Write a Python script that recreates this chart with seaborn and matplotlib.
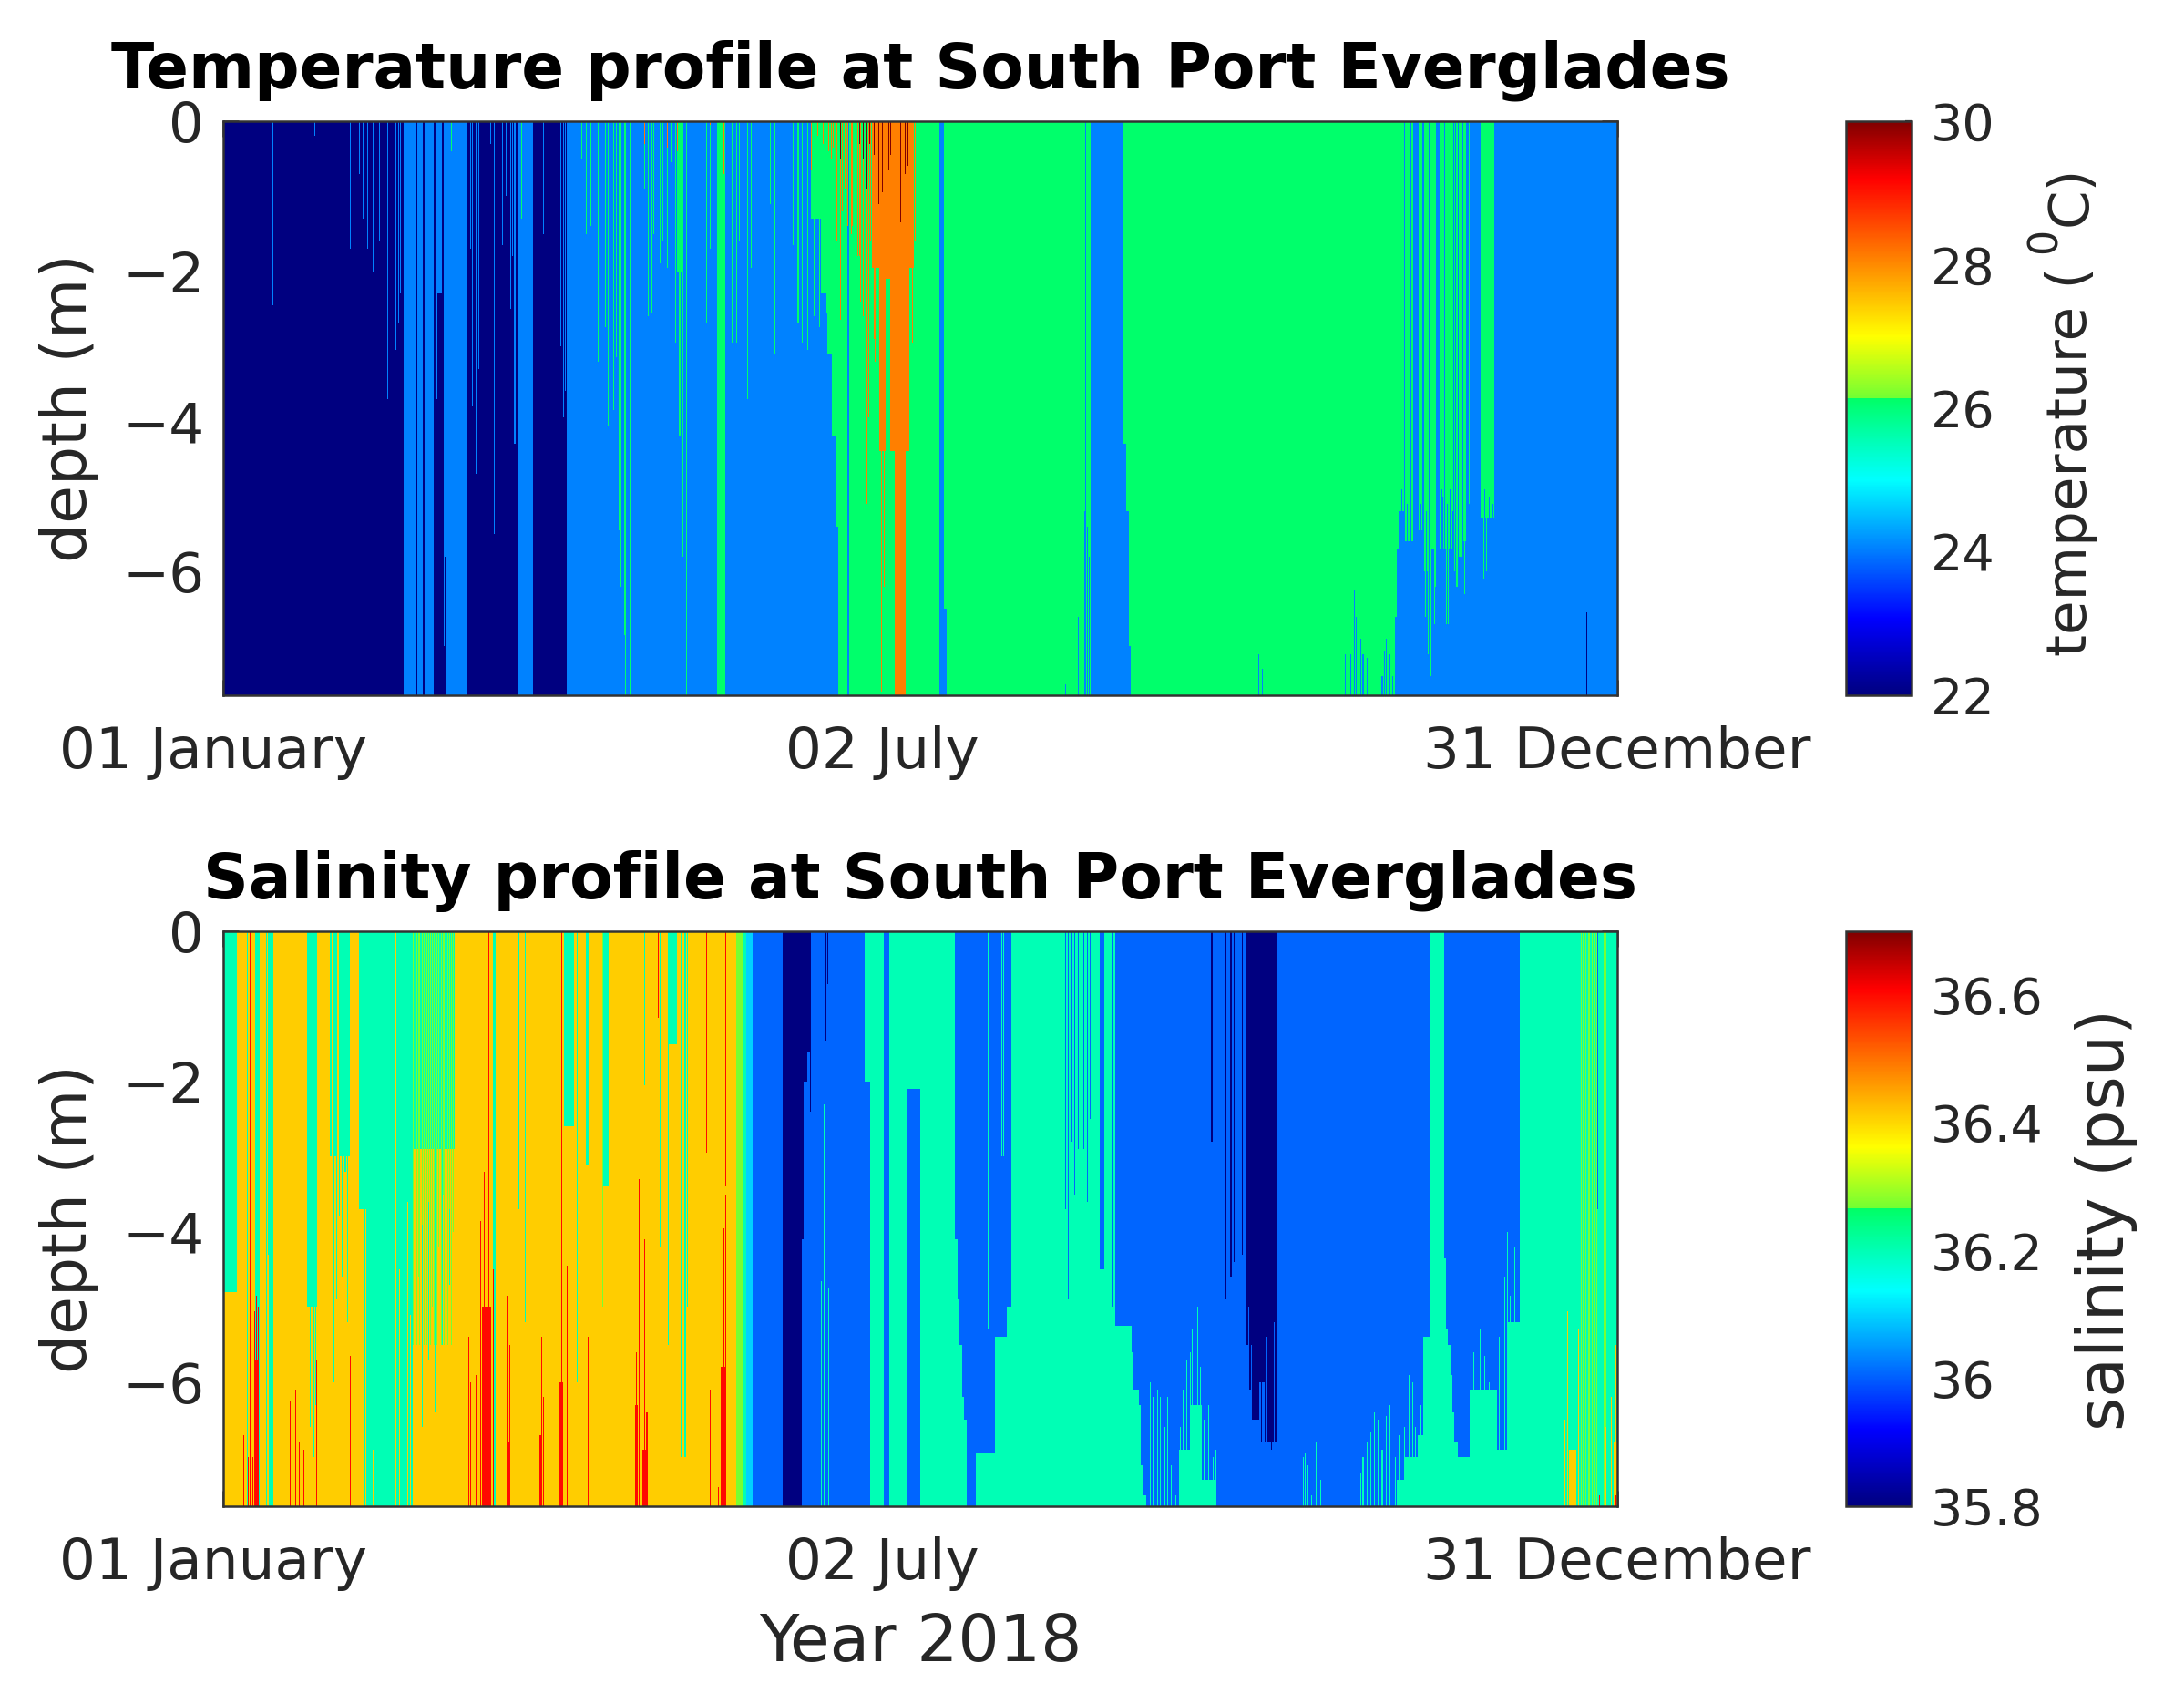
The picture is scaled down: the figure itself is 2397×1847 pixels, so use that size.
import numpy as np
import matplotlib
matplotlib.use("Agg")
import matplotlib.pyplot as plt
from matplotlib.colors import LinearSegmentedColormap
from matplotlib.transforms import ScaledTranslation
import seaborn as sns

# grid of the profiles: 4 columns per day, 0.05 m per row
N_COLS = 1456
N_ROWS = 153

# ---- temperature, whole-column runs (start day, value)
temp_run_day = [0, 46.9, 50.4, 50.8, 52.0, 52.4, 54.9, 58.0, 63.5, 77.0, 81.0, 89.8, 129.1, 131.1, 160.4,
                163.0, 163.4, 175.3, 178.3, 187.1, 188.3, 226.5, 235.0, 305.9]
temp_run_val = [22, 24, 22, 24, 22, 24, 22, 24, 22, 24, 22, 24, 26, 24, 26,
                24, 26, 28, 26, 24, 26, 24, 26, 24]

# temperature patches (start day, end day, top, bottom, value)
temp_box_start = [118.4, 153.6, 156.0, 157.8, 159.0, 160.0, 169.5, 171.3, 173.0, 55.8,
                  305.9, 306.6, 307.1, 308.5, 310.2, 312.2, 313.4, 315.3, 316.4, 317.4, 321.9, 322.5, 323.7, 325.2, 328.3,
                  188.3, 235.0, 235.7, 236.4, 236.6]
temp_box_end = [120.2, 157.8, 157.8, 159.0, 160.0, 160.4, 180.3, 179.2, 174.2, 56.9,
                306.6, 307.1, 308.3, 309.7, 310.7, 313.1, 314.7, 316.2, 316.8, 321.3, 322.2, 323.5, 324.4, 325.6, 332.0,
                189.1, 235.7, 236.4, 236.6, 236.9]
temp_box_top = [0, 0, 0, 0, 0, 0, 0, 0, 2.1, 0,
                0, 0, 0, 0, 0, 0, 0, 0, 0, 0, 0, 0, 0, 0, 0,
                6.5, 4.3, 5.2, 6.1, 7.0]
temp_box_bottom = [2.0, 1.3, 2.3, 3.1, 4.2, 5.4, 1.95, 4.4, 4.4, 2.3,
                   6.6, 5.7, 5.2, 5.6, 5.6, 5.45, 6.0, 5.7, 6.2, 5.7, 6.2, 5.8, 5.6, 5.1, 5.3,
                   7.65, 7.65, 7.65, 7.65, 7.65]
temp_box_val = [26, 26, 26, 26, 26, 26, 28, 28, 26, 24,
                26, 26, 26, 26, 26, 26, 26, 26, 26, 26, 26, 26, 26, 26, 26,
                24, 24, 24, 24, 24]

# thin events reaching down from the surface
temp_azure_day = [12.75, 23.7, 32.9, 35.6, 36.5, 37.6, 39.0, 40.7, 41.9, 42.7, 44.9, 45.8, 46.3, 55.8, 57.4, 57.8,
                  64.6, 65.0, 65.9, 66.5, 69.7, 70.8, 72.7, 73.8, 74.9, 75.4, 76.1, 76.7, 83.6, 84.9, 87.9, 88.7, 89.2,
                  223.9, 224.9, 308.3, 310.0, 311.9, 314.9, 317.0, 318.7, 321.6, 324.6, 326.9]
temp_azure_depth = [2.45, 0.18, 1.7, 0.7, 1.3, 1.7, 2.0, 1.6, 3.0, 3.7, 3.05, 2.7, 2.3, 3.7, 7.0, 5.8,
                    1.7, 3.8, 4.7, 3.3, 0.3, 5.5, 1.65, 1.0, 2.5, 1.8, 4.3, 6.5, 1.5, 3.7, 3.0, 3.95, 3.6,
                    7.65, 7.65, 2.0, 5.0, 5.0, 5.0, 5.0, 5.7, 1.25, 5.0, 5.0]
temp_green_day = [59.6, 60.7, 77.7, 93.6, 94.7, 95.7, 97.8, 98.3, 99.8, 100.5, 101.7, 102.6, 103.2, 103.8, 104.8, 105.0,
                  106.0, 108.9, 109.9, 110.8, 111.8, 112.3, 113.9, 114.7, 115.7, 116.8, 118.1, 119.0, 119.3, 120.0,
                  120.8, 125.9, 126.9, 127.8, 132.7, 133.9, 134.8, 136.8, 137.8, 142.7, 143.9, 148.7, 150.0, 151.1,
                  152.4, 154.2, 155.4, 156.4, 157.6,
                  313.7, 314.6, 315.3, 316.3, 319.2, 319.8, 320.4, 321.6, 322.9, 324.1, 328.9, 329.8, 330.4, 331.4]
temp_green_depth = [0.4, 1.3, 1.3, 0.5, 1.5, 1.4, 3.2, 2.55, 2.75, 4.05, 3.85, 3.15, 5.45, 6.2, 6.85, 7.65,
                    7.65, 1.3, 0.9, 2.6, 2.55, 1.5, 1.9, 1.6, 1.95, 0.55, 2.95, 4.2, 4.2, 5.8,
                    7.65, 2.7, 1.7, 4.95, 2.95, 2.95, 1.6, 3.7, 1.95, 1.1, 3.1, 1.65, 2.7, 2.95,
                    3.05, 2.6, 2.75, 2.1, 2.55,
                    6.6, 7.1, 7.4, 6.7, 6.7, 6.7, 7.05, 6.0, 6.4, 6.3, 6.1, 6.0, 6.3, 6.2]
temp_orange_day = [76.7, 109.9, 115.7, 118.6, 126.9, 130.5, 153.6, 155.0, 156.5, 158.1, 158.8, 159.2, 160.0, 160.9, 161.5,
                   162.2, 163.0, 163.9, 164.2, 164.9, 165.5, 166.1, 166.2, 167.0, 167.9, 168.4, 168.9, 169.7, 170.0,
                   171.8, 172.4, 179.8, 180.6]
temp_orange_depth = [0.1, 0.3, 0.35, 0.4, 0.05, 0.7, 0.65, 0.2, 0.3, 0.4, 0.5, 0.35, 1.6, 2.65, 1.2,
                     0.9, 1.4, 1.5, 1.4, 1.5, 1.8, 1.8, 2.4, 2.6, 5.1, 3.95, 1.6, 2.9, 3.2,
                     7.6, 6.2, 2.95, 1.6]
temp_red_day = [160.9, 166.1, 166.9, 168.1, 168.7, 169.8, 171.0, 172.0, 173.7, 174.2, 176.8, 177.9, 178.7]
temp_red_depth = [0.5, 0.3, 0.5, 0.9, 0.3, 0.45, 1.1, 0.95, 0.65, 0.45, 1.35, 0.7, 0.6]

# thin events rising from the bottom
temp_rise_day = [219.7, 223.3, 224.8, 225.5, 226.1, 270.2, 271.3, 292.7, 293.4, 294.3, 295.3, 295.8, 296.4, 297.0,
                 297.6, 298.4, 298.9, 302.5, 302.9, 303.6, 304.4, 305.2,
                 307.5, 308.9, 312.6, 314.0, 317.9, 318.3, 319.5, 320.3, 320.9, 329.2, 330.5, 331.5]
temp_rise_top = [7.5, 6.6, 5.2, 5.4, 5.8, 7.1, 7.3, 7.1, 7.35, 7.1, 6.25, 6.6, 6.9, 6.9,
                 7.1, 7.15, 7.5, 7.4, 7.05, 6.9, 7.1, 7.4,
                 4.9, 5.1, 5.1, 5.2, 4.9, 5.0, 5.1, 4.9, 5.2, 4.9, 5.0, 5.1]
temp_navy_rise_day = [355.9]
temp_navy_rise_top = [6.55]

# ---- salinity, whole-column runs
sal_run_day = [0, 3.6, 8.3, 9.5, 11.2, 11.5, 11.9, 13.1, 22.1, 24.5, 27.7, 28.2, 29.1, 29.7, 30.6, 33.1, 35.6,
               49.4, 70.4, 71.3, 133.9, 135.4, 136.6, 138.2, 146.0, 150.9, 169.1, 172.6, 174.1, 178.5, 182.0,
               190.9, 205.7, 233.0, 267.0, 275.1, 315.3, 318.7, 338.6]
sal_run_val = [36.2, 36.4, 36.2, 36.4, 36.2, 36.4, 36.2, 36.4, 36.2, 36.4, 36.2, 36.4, 36.2, 36.4, 36.2, 36.4, 36.2,
               36.4, 36.2, 36.4, 36.27, 36.2, 36.1, 36.0, 35.8, 36.0, 36.2, 36.0, 36.2, 36.0, 36.2,
               36.0, 36.2, 36.0, 35.8, 36.0, 36.2, 36.0, 36.2]

# salinity patches
sal_box_start = [0, 22.1, 27.7, 35.6, 49.4, 89.0, 94.7, 99.3, 109.9, 116.3, 150.9, 151.5, 152.5, 167.5, 178.5,
                 190.9, 191.7, 192.3, 193.0, 193.6, 196.5, 201.5, 204.5, 228.8,
                 233.0, 237.2, 237.8, 239.0, 239.6, 240.2, 249.4, 252.4, 255.5,
                 267.0, 268.5, 270.5, 272.0,
                 306.5, 308.3, 312.0, 313.2, 318.7, 319.2, 319.8, 320.4, 321.0, 321.6, 322.2, 325.6, 332.5, 335.5,
                 351.4, 363.0,
                 8.25, 67.5, 129.9, 87.4, 107.5, 109.5, 74.0, 82.5]
sal_box_end = [3.6, 24.5, 33.1, 36.8, 60.4, 91.4, 95.4, 100.8, 110.3, 118.4, 151.5, 152.5, 153.2, 169.1, 182.0,
               191.7, 192.3, 193.0, 193.6, 194.2, 201.5, 204.5, 205.7, 230.0,
               237.2, 237.8, 239.0, 239.6, 240.2, 241.0, 252.4, 255.5, 259.1,
               268.5, 270.5, 272.0, 274.9,
               308.3, 312.0, 315.3, 315.3, 319.2, 319.8, 320.4, 321.0, 321.6, 322.2, 325.6, 332.5, 335.5, 338.6,
               353.2, 364.0,
               9.25, 70.0, 131.1, 88.8, 108.3, 110.5, 75.0, 83.2]
sal_box_top = [4.8, 5.0, 3.0, 3.7, 0, 0, 0, 0, 0, 0, 0, 0, 0, 0, 0,
               4.1, 4.9, 5.5, 6.2, 6.5, 6.95, 5.4, 5.0, 0,
               5.25, 5.6, 6.1, 6.3, 7.1, 7.5, 6.9, 6.3, 7.3,
               5.5, 6.5, 6.0, 6.8,
               7.3, 7.0, 6.7, 5.4, 4.35, 5.3, 5.5, 5.9, 6.4, 6.8, 7.0, 6.1, 6.9, 5.2,
               6.9, 6.8,
               5.7, 5.0, 5.8, 6.0, 6.3, 6.9, 6.8, 6.7]
sal_box_bottom = [7.65, 7.65, 7.65, 7.65, 2.9, 2.6, 3.1, 3.4, 2.05, 1.5, 4.1, 2.0, 1.6, 2.0, 2.1,
                  7.65, 7.65, 7.65, 7.65, 7.65, 7.65, 7.65, 7.65, 4.5,
                  7.65, 7.65, 7.65, 7.65, 7.65, 7.65, 7.65, 7.65, 7.65,
                  7.65, 7.65, 7.65, 7.65,
                  7.65, 7.65, 7.65, 7.65, 7.65, 7.65, 7.65, 7.65, 7.65, 7.65, 7.65, 7.65, 7.65, 7.65,
                  7.65, 7.65,
                  7.65, 7.65, 7.65, 7.65, 7.65, 7.65, 7.65, 7.65]
sal_box_val = [36.4, 36.4, 36.4, 36.4, 36.2, 36.2, 36.2, 36.2, 36.2, 36.2, 35.8, 35.8, 35.8, 36.2, 36.2,
               36.2, 36.2, 36.2, 36.2, 36.2, 36.2, 36.2, 36.2, 36.0,
               36.2, 36.2, 36.2, 36.2, 36.2, 36.2, 36.2, 36.2, 36.2,
               36.0, 36.0, 36.0, 36.0,
               36.2, 36.2, 36.2, 36.2, 36.2, 36.2, 36.2, 36.2, 36.2, 36.2, 36.2, 36.2, 36.2, 36.2,
               36.4, 36.4,
               36.6, 36.6, 36.6, 36.6, 36.6, 36.6, 36.6, 36.6]

# thin salinity events from the surface
sal_teal_day = [1.9, 6.3, 8.9, 11.8, 12.4, 22.6, 23.4, 24.0, 28.8, 29.5, 30.2, 30.9, 31.7, 32.3,
                50.0, 51.7, 53.5, 55.3, 57.0, 59.0, 59.6, 77.0, 78.8, 92.3, 113.9, 115.9, 119.4, 120.4, 120.9,
                199.4, 203.3, 203.8, 253.6, 339.2]
sal_teal_depth = [6.0, 7.65, 2.8, 4.3, 4.5, 6.6, 7.0, 6.3, 6.0, 4.9, 3.8, 4.6, 3.2, 5.2,
                  6.0, 6.6, 5.7, 6.4, 5.5, 4.7, 5.2, 3.7, 5.2, 6.0, 4.2, 5.5, 7.0, 7.0, 5.0,
                  5.3, 3.0, 3.0, 5.0, 3.5]
sal_green_day = [49.5, 49.9, 50.4, 50.9, 51.3, 51.8, 52.2, 52.7, 53.1, 53.6, 54.0, 54.4, 54.9, 55.4, 55.8, 56.2, 56.7,
                 57.2, 57.6, 58.1, 58.5, 59.0, 59.4, 60.0, 99.0, 354.4, 355.1, 355.8, 356.5,
                 357.2, 357.9, 358.6, 360.5, 361.1]
sal_green_depth = [5.5, 3.4, 5.5, 4.6, 5.5, 3.9, 5.5, 4.3, 5.5, 3.6, 5.5, 5.0, 5.5, 3.8, 5.5, 4.2, 5.5,
                   3.5, 5.5, 4.8, 5.5, 3.7, 5.5, 4.0, 5.0, 7.65, 7.65, 7.65, 7.65,
                   7.65, 7.65, 7.65, 7.65, 7.65]
sal_blue_day = [219.7, 220.6, 221.5, 222.3, 223.3, 224.5, 225.5, 226.2, 232.0, 357.7, 358.7]
sal_blue_depth = [3.7, 4.9, 2.8, 3.5, 2.9, 2.9, 3.6, 2.5, 5.0, 4.9, 3.7]
sal_navy_day = [153.3, 157.2, 157.8, 257.9, 261.8, 262.9, 263.7, 266.0, 268.0, 269.0, 270.2, 271.0, 272.0, 273.4]
sal_navy_depth = [2.4, 1.45, 0.7, 2.8, 4.9, 4.6, 4.4, 4.3, 6.1, 6.5, 6.2, 6.8, 6.6, 6.9]
sal_yellow_day = [41.9, 44.9]
sal_yellow_depth = [2.75, 7.65]
sal_red_day = [7.0, 69.3, 87.6, 88.3, 113.6, 126.0, 131.1]
sal_red_depth = [7.65, 7.65, 6.0, 6.0, 1.15, 2.95, 3.4]

# thin salinity events rising from the bottom
sal_teal_rise_day = [156.1, 156.8, 157.9, 242.1, 242.7, 243.7, 244.5, 245.8, 246.6, 247.6, 248.6, 249.8, 250.6, 251.5, 252.4,
                     253.0, 254.3, 255.1, 256.1, 257.3, 258.3, 259.1, 282.0, 282.5, 283.0, 284.0, 285.2, 285.8, 286.4,
                     297.1, 297.6, 298.6, 299.4, 300.6, 301.4, 302.5, 303.4, 304.6, 305.9, 307.1, 308.3, 309.5, 310.5,
                     311.3, 312.5, 313.5, 326.5, 328.0, 329.2, 330.4, 333.0, 334.5, 335.3, 336.0, 336.9]
sal_teal_rise_top = [4.65, 2.3, 4.75, 6.0, 6.2, 6.1, 6.2, 6.6, 6.2, 7.1, 7.5, 6.6, 6.1, 5.7, 5.6,
                     5.3, 5.0, 5.8, 6.5, 6.3, 7.0, 6.9, 7.0, 6.95, 7.1, 7.5, 6.8, 7.4, 7.3,
                     7.2, 7.0, 6.8, 6.65, 6.4, 6.5, 6.9, 6.45, 6.3, 7.0, 6.7, 6.6, 5.9, 6.0,
                     6.6, 6.3, 5.9, 5.6, 5.3, 5.65, 6.0, 5.4, 4.6, 4.0, 4.85, 4.2]
sal_blue_rise_day = [267.7, 272.5, 274.3]
sal_blue_rise_top = [5.0, 5.4, 5.2]
sal_yellow_rise_day = [37.0, 39.1, 45.9, 48.0, 48.7, 350.2, 351.0, 352.6, 353.8, 361.1, 362.3, 363.5]
sal_yellow_rise_top = [3.7, 6.9, 4.5, 3.6, 5.1, 6.5, 5.05, 5.9, 5.3, 6.6, 6.2, 5.5]
sal_red_rise_day = [5.2, 6.6, 7.5, 7.9, 8.4, 8.5, 8.9, 9.1, 17.2, 18.8, 19.8, 20.9, 24.2, 33.1, 58.0, 64.1, 64.6, 65.9, 66.9,
                    68.0, 68.6, 69.0, 69.6, 70.4, 74.1, 74.7, 82.0, 82.9, 83.5, 85.0, 89.8, 95.2,
                    107.8, 108.5, 109.9, 110.5, 126.9, 127.8, 129.3, 130.4, 130.9, 359.3, 363.5]
sal_red_rise_top = [6.7, 7.0, 7.0, 5.05, 4.85, 5.7, 5.0, 5.7, 6.25, 6.1, 6.8, 6.9, 5.7, 5.65, 6.6, 5.4, 6.0, 5.9, 3.85,
                    3.2, 5.0, 5.0, 5.0, 4.5, 4.85, 5.5, 5.7, 5.4, 6.2, 5.4, 4.45, 5.4,
                    5.6, 3.3, 4.1, 6.4, 6.1, 6.9, 7.4, 3.95, 3.5, 7.5, 7.5]

# values as shown by the colours of the picture, slightly off the round levels
temp_levels = {22: 22, 24: 24.05, 26: 26.1, 28: 28.1, 30: 30}
sal_levels = {35.8: 35.8, 36.0: 36.007, 36.1: 36.1, 36.2: 36.2, 36.27: 36.27, 36.4: 36.41, 36.6: 36.6}

date_labels = ["01 January", "02 July", "31 December"]
date_days = [0, 182, 364]
depth_ticks = [0, 2, 4, 6]
depth_labels = ["0", "\u22122", "\u22124", "\u22126"]
temp_ticks = [22, 24, 26, 28, 30]
sal_ticks = [35.8, 36, 36.2, 36.4, 36.6]
sal_tick_labels = ["35.8", "36", "36.2", "36.4", "36.6"]


def col(day):
    return int(round(day * 4))


def row(depth):
    return int(round(depth / 0.05))


def build_profile(run_day, run_val, box_lists, down_lists, rise_lists, levels):
    grid = np.zeros((N_ROWS, N_COLS))
    stops = run_day[1:] + [364]
    for start, end, val in zip(run_day, stops, run_val):
        grid[:, col(start):col(end)] = levels[val]
    for start, end, top, bottom, val in zip(*box_lists):
        grid[row(top):row(bottom), col(start):col(end)] = levels[val]
    for days, depths, val in down_lists:
        for d, z in zip(days, depths):
            grid[:row(z), col(d)] = levels[val]
    for days, tops, val in rise_lists:
        for d, z in zip(days, tops):
            grid[row(z):, col(d)] = levels[val]
    return grid


temp_grid = build_profile(
    temp_run_day, temp_run_val,
    (temp_box_start, temp_box_end, temp_box_top, temp_box_bottom, temp_box_val),
    [(temp_azure_day, temp_azure_depth, 24), (temp_green_day, temp_green_depth, 26),
     (temp_orange_day, temp_orange_depth, 28), (temp_red_day, temp_red_depth, 30)],
    [(temp_rise_day, temp_rise_top, 24), (temp_navy_rise_day, temp_navy_rise_top, 22)],
    temp_levels)

sal_grid = build_profile(
    sal_run_day, sal_run_val,
    (sal_box_start, sal_box_end, sal_box_top, sal_box_bottom, sal_box_val),
    [(sal_teal_day, sal_teal_depth, 36.2), (sal_green_day, sal_green_depth, 36.27),
     (sal_blue_day, sal_blue_depth, 36.0), (sal_navy_day, sal_navy_depth, 35.8),
     (sal_yellow_day, sal_yellow_depth, 36.4), (sal_red_day, sal_red_depth, 36.6)],
    [(sal_teal_rise_day, sal_teal_rise_top, 36.2), (sal_blue_rise_day, sal_blue_rise_top, 36.0),
     (sal_yellow_rise_day, sal_yellow_rise_top, 36.4), (sal_red_rise_day, sal_red_rise_top, 36.6)],
    sal_levels)

# jet with the jump near the middle that the original colorbar shows
jet_break = LinearSegmentedColormap.from_list("jet_break", [
    (0.0, (0, 0, 0.5)), (0.133, (0, 0, 1)), (0.375, (0, 1, 1)), (0.5175, (0, 1, 0.4)),
    (0.5185, (0.45, 1, 0.2)), (0.625, (1, 1, 0)), (0.9, (1, 0, 0)), (1.0, (0.5, 0, 0))], N=512)

sns.set_theme(style="white", rc={"text.color": ".15", "axes.labelcolor": ".15",
                                 "xtick.color": ".15", "ytick.color": ".15"})
plt.rcParams["font.family"] = ["DejaVu Sans"]

W, H = 2397, 1847
fig = plt.figure(figsize=(W / 200, H / 200), dpi=200)


def px_axes(left, top, right, bottom):
    return fig.add_axes([left / W, 1 - bottom / H, (right - left) / W, (bottom - top) / H])


def draw_panel(grid, top, bottom, vmin, vmax, ticks, tick_labels, title):
    ax = px_axes(245, top, 1775, bottom)
    cax = px_axes(2026, top, 2098, bottom)
    sns.heatmap(grid, ax=ax, cbar_ax=cax, cmap=jet_break, vmin=vmin, vmax=vmax,
                xticklabels=False, yticklabels=False, cbar_kws={"ticks": ticks})
    for spine in ax.spines.values():
        spine.set_visible(True)
        spine.set_color(".2")
        spine.set_linewidth(0.9)
    ax.set_xticks([col(d) for d in date_days])
    ax.set_xticklabels(date_labels, fontsize=22.6)
    ax.set_yticks([row(z) for z in depth_ticks])
    ax.set_yticklabels(depth_labels, fontsize=22)
    ax.tick_params(axis="both", direction="in", length=6, width=0.9, top=True, right=True,
                   bottom=True, left=True, color=".2")
    ax.tick_params(axis="x", pad=12)
    ax.tick_params(axis="y", pad=7.5)
    # the labels of the first two dates sit left of their ticks in the original
    shifts = [-11, -42, 0]
    for lab, dx in zip(ax.get_xticklabels(), shifts):
        lab.set_transform(lab.get_transform() + ScaledTranslation(dx / 200, 0, fig.dpi_scale_trans))
    ax.set_ylabel("depth (m)", fontsize=24.5, labelpad=9)
    ax.set_title(title, fontsize=24.9, fontweight="bold", color="black", pad=13)

    cax.tick_params(axis="y", direction="in", length=2.5, width=0.8, right=True, color=".2",
                    labelsize=20, pad=7.5)
    if tick_labels is not None:
        cax.set_yticklabels(tick_labels)
    cbar = ax.collections[0].colorbar
    cbar.outline.set_visible(True)
    cbar.outline.set_edgecolor(".2")
    cbar.outline.set_linewidth(0.9)
    return ax


ax_temp = draw_panel(temp_grid, 133, 763, 22, 30, temp_ticks, None,
                     "Temperature profile at South Port Everglades")
ax_sal = draw_panel(sal_grid, 1022, 1653, 35.8, 36.7, sal_ticks, sal_tick_labels,
                    "Salinity profile at South Port Everglades")

# the colorbar label has a large raised 0, so it is set in three pieces
label_kw = dict(rotation=90, rotation_mode="anchor", va="baseline", color=".15")
fig.text(2290 / W, 1 - 720 / H, "temperature (", fontsize=22, ha="left", **label_kw)
fig.text(2257 / W, 1 - 264 / H, "0", fontsize=16, ha="center", **label_kw)
fig.text(2290 / W, 1 - 248 / H, "C)", fontsize=22, ha="left", **label_kw)
fig.text(2312 / W, 1 - 1338 / H, "salinity (psu)", rotation=90, fontsize=25.8,
         ha="center", va="center", color=".15")
fig.text(1010 / W, 1 - 1804 / H, "Year 2018", fontsize=25.6, ha="center", va="center", color=".15")

fig.savefig("out.png", dpi=200)
